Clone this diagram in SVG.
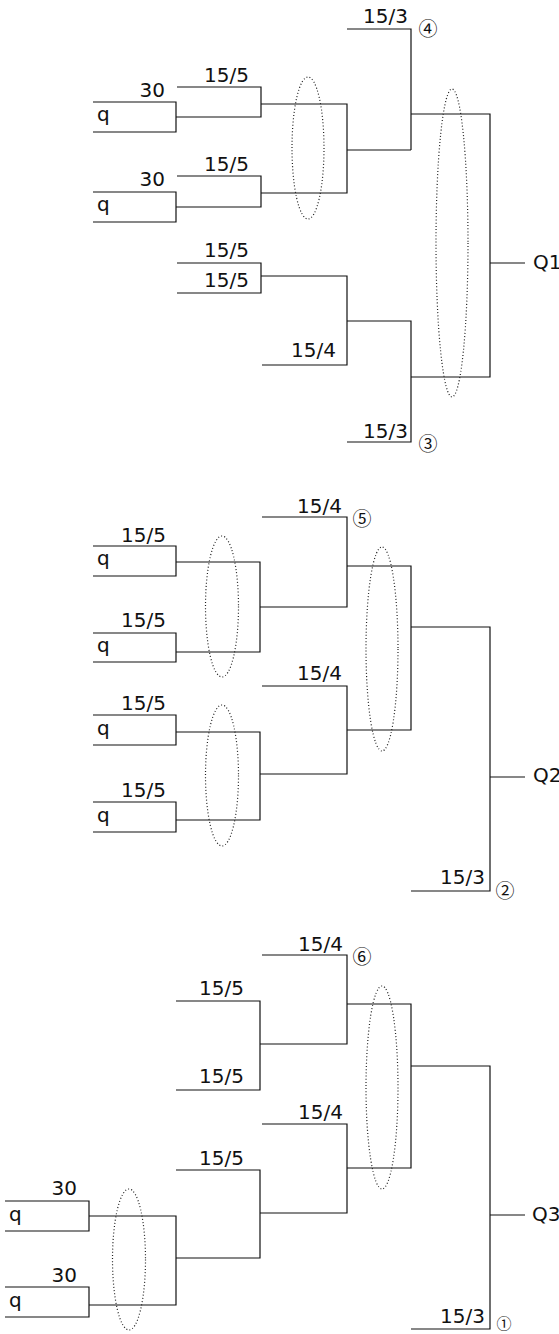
<svg xmlns="http://www.w3.org/2000/svg" width="559" height="1334" viewBox="0 0 559 1334">
<style>
.ln{fill:none;stroke:#111;stroke-width:1.2}
.el{fill:none;stroke:#222;stroke-width:1.2;stroke-dasharray:1 2.2}
.t{font-family:"DejaVu Sans",sans-serif;font-size:20px;fill:#111}
.e{text-anchor:end}
.c{font-family:"Noto Sans CJK JP","DejaVu Sans",sans-serif;font-size:19px;fill:#111;text-anchor:middle;dominant-baseline:central}
</style>
<rect width="559" height="1334" fill="#fff"/>
<g id="connectors" class="ln">
<path d="M177,87H261V117H176M177,176H261V207H176M261,104H347V193H261M347,150H411M347,29H411V150M411,114H490V377H411M490,263H525"/>
<path d="M177,263H261V293H177M261,276H347V365H262M347,321H411V442H347"/>
<path d="M176,562H260V652H176M262,517H347V607H260M347,566H411V730H347M262,686H347V774H260M176,732H260V820H176M411,627H490V891H411M490,777H525"/>
<path d="M262,955H347V1044H260M176,1001H260V1090H176M347,1004H411V1168H347M262,1124H347V1213H260M176,1170H260V1258H176M89,1216H176V1305H89M411,1066H490V1329H411M490,1215H525"/>
</g>
<g id="q1">
<g id="box-q-a"><path class="ln" d="M93,102H176V132H93"/><text class="t" x="97" y="121">q</text><text class="t e" x="165" y="97">30</text></g>
<g id="box-q-b"><path class="ln" d="M93,192H176V222H93"/><text class="t" x="97" y="211">q</text><text class="t e" x="165" y="186">30</text></g>
<g id="lbl-top"><text class="t e" x="249" y="82">15/5</text><text class="t e" x="249" y="171">15/5</text><text class="t e" x="408" y="23">15/3</text><text class="c" x="428" y="27">④</text>
<text class="t e" x="249" y="257">15/5</text><text class="t e" x="249" y="287">15/5</text><text class="t e" x="336" y="357">15/4</text><text class="t e" x="408" y="438">15/3</text><text class="c" x="428" y="442">③</text>
<text class="t" x="533" y="269">Q1</text></g>
<g id="ell-top"><ellipse class="el" cx="308" cy="148" rx="16" ry="71"/><ellipse class="el" cx="452" cy="243" rx="16" ry="154"/></g>
</g>
<g id="q2">
<g id="box-q-c"><path class="ln" d="M93,546H176V576H93"/><text class="t" x="97" y="565">q</text><text class="t e" x="166" y="542">15/5</text></g>
<g id="box-q-d"><path class="ln" d="M93,633H176V662H93"/><text class="t" x="97" y="652">q</text><text class="t e" x="166" y="627">15/5</text></g>
<g id="box-q-e"><path class="ln" d="M93,715H176V745H93"/><text class="t" x="97" y="735">q</text><text class="t e" x="166" y="710">15/5</text></g>
<g id="box-q-f"><path class="ln" d="M93,802H176V832H93"/><text class="t" x="97" y="822">q</text><text class="t e" x="166" y="797">15/5</text></g>
<g id="lbl-mid"><text class="t e" x="342" y="513">15/4</text><text class="c" x="362" y="517">⑤</text><text class="t e" x="342" y="680">15/4</text>
<text class="t e" x="485" y="884">15/3</text><text class="c" x="505" y="889">②</text><text class="t" x="533" y="782">Q2</text></g>
<g id="ell-mid"><ellipse class="el" cx="222" cy="606.5" rx="16.5" ry="70.5"/><ellipse class="el" cx="222" cy="775.5" rx="16.5" ry="70.5"/><ellipse class="el" cx="382" cy="649" rx="16" ry="102"/></g>
</g>
<g id="q3">
<g id="box-q-g"><path class="ln" d="M5,1201H89V1231H5"/><text class="t" x="9" y="1221">q</text><text class="t e" x="77" y="1195">30</text></g>
<g id="box-q-h"><path class="ln" d="M5,1287H89V1317H5"/><text class="t" x="9" y="1307">q</text><text class="t e" x="77" y="1282">30</text></g>
<g id="lbl-bot"><text class="t e" x="343" y="951">15/4</text><text class="c" x="362" y="955">⑥</text><text class="t e" x="244" y="995">15/5</text><text class="t e" x="244" y="1083">15/5</text>
<text class="t e" x="343" y="1119">15/4</text><text class="t e" x="244" y="1165">15/5</text><text class="t e" x="485" y="1323">15/3</text><text class="c" x="504" y="1322" style="font-size:15px">①</text><text class="t" x="532" y="1221">Q3</text></g>
<g id="ell-bot"><ellipse class="el" cx="382" cy="1087.5" rx="16" ry="101.5"/><ellipse class="el" cx="129" cy="1259.5" rx="16.5" ry="70.5"/></g>
</g>
</svg>
